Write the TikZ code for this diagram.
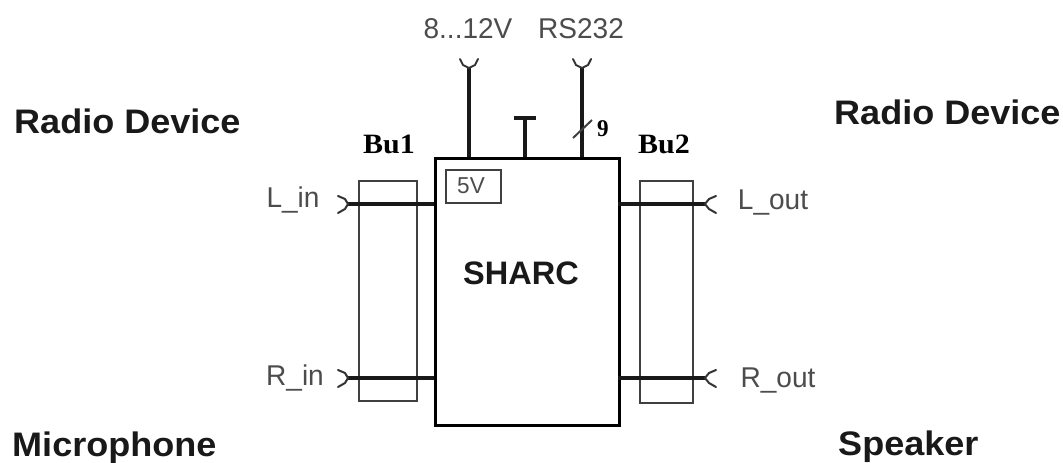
\documentclass[tikz,border=0pt]{standalone}
\usepackage{fontspec}
\setmainfont{Liberation Sans}
\newfontfamily\serifb{Liberation Serif}
\tikzset{
  thick line/.style={line width=3.2pt,black!90},
  thin box/.style={draw=black!75,line width=2pt,fill=none,inner sep=0pt,minimum width=0pt},
  big label/.style={inner sep=0pt,xscale=1.06,font=\fontsize{34}{38}\selectfont\bfseries,text=black!90},
  sig label/.style={inner sep=0pt,xscale=0.98,font=\fontsize{28.6}{32}\selectfont,text=black!70},
  bu label/.style={inner sep=0pt,xscale=1.07,font=\fontsize{28}{30}\selectfont\serifb\bfseries,text=black},
  chev/.style={line width=2pt,black!80,line cap=round},
}
\begin{document}
\begin{tikzpicture}[x=1pt,y=-1pt]
\useasboundingbox (0,0) rectangle (1063,463);
\fill[white] (0,0) rectangle (1063,463);
% boxes
\node[thin box,anchor=north west,minimum width=58pt,minimum height=220pt] (bu1) at (358,180) {};
\node[thin box,anchor=north west,minimum width=53pt,minimum height=222pt] (bu2) at (639,180) {};
\node[draw=black,line width=3.4pt,inner sep=0pt,anchor=north west,minimum width=184pt,minimum height=267pt] (sharc) at (434,157) {};
\node[inner sep=0pt,font=\fontsize{32.5}{36}\selectfont\bfseries,text=black!90] (sharclabel) at (521,273) {SHARC};
\node[thin box,anchor=north west,minimum width=55pt,minimum height=33pt] (fivev) at (445,169) {};
\node[sig label,font=\fontsize{23}{25}\selectfont] (fivelabel) at (471,186) {5V};
% coordinates
\coordinate (lin) at (348,204); \coordinate (rin) at (348,378);
\coordinate (lout) at (705,204); \coordinate (rout) at (705,378);
\coordinate (pwr) at (469,68); \coordinate (rs) at (582,68);
\coordinate (gnd) at (525,118);
\coordinate (sharcpwr) at (469,157); \coordinate (sharcrs) at (582,157); \coordinate (sharcgnd) at (525,157);
\coordinate (sharclin) at (434,204); \coordinate (sharcrin) at (434,378);
\coordinate (sharclout) at (618,204); \coordinate (sharcrout) at (618,378);
% connectors
\draw[thick line] (lin) -- (sharclin);
\draw[thick line] (rin) -- (sharcrin);
\draw[thick line] (sharclout) -- (lout);
\draw[thick line] (sharcrout) -- (rout);
\draw[thick line] (pwr) -- (sharcpwr);
\draw[thick line] (rs) -- (sharcrs);
\draw[thick line] (gnd) -- (sharcgnd);
\draw[thick line] (514,118) -- (536,118);
% chevrons
\draw[chev] (338,196) -- (345,199) -- (lin) -- (345,209) -- (338,213);
\draw[chev] (338,370) -- (345,373) -- (rin) -- (345,383) -- (338,387);
\draw[chev] (716,196) -- (709,199) -- (lout) -- (709,209) -- (716,213);
\draw[chev] (716,370) -- (709,373) -- (rout) -- (709,383) -- (716,387);
\draw[chev] (460,59) -- (463,65) -- (pwr) -- (475,65) -- (478,59);
\draw[chev] (573,59) -- (576,65) -- (rs) -- (588,65) -- (591,59);
\draw[line width=2pt,black!75] (573,138) -- (592,120);
% labels
\node[sig label] (v) at (468,29) {8...12V};
\node[sig label] (rsl) at (581,29) {RS232};
\node[bu label,xscale=0.9,font=\fontsize{24}{26}\selectfont\serifb\bfseries] (nine) at (603,129) {9};
\node[bu label] (b1) at (389,144) {Bu1};
\node[bu label] (b2) at (664,144) {Bu2};
\node[sig label] (l1) at (293,200) {L\_in};
\node[sig label] (l2) at (295,378) {R\_in};
\node[sig label] (l3) at (773,203) {L\_out};
\node[sig label] (l4) at (778,380) {R\_out};
\node[big label,anchor=west] (rd1) at (14,121) {Radio Device};
\node[big label,anchor=west] (rd2) at (834,112) {Radio Device};
\node[big label,anchor=west] (mic) at (12,448) {Microphone};
\node[big label,anchor=west] (spk) at (838,447) {Speaker};
\end{tikzpicture}
\end{document}
